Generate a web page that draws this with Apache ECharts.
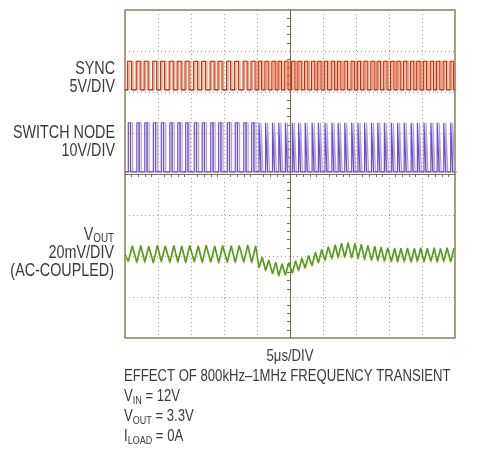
<!DOCTYPE html>
<html>
<head>
<meta charset="utf-8">
<script src="https://cdn.jsdelivr.net/npm/echarts@6/dist/echarts.min.js"></script>
<style>
  html, body { margin: 0; padding: 0; background: #fff; }
  #chart { width: 484px; height: 450px; }
</style>
</head>
<body>
<div id="chart"></div>
<script>
// time axis in us, 5us/div, 10 divisions
const timeMin = -25;
const timeMax = 25;
const timeStep = 5;

// SYNC pulses [rise, fall] in us, 0V..3.5V
const syncHighV = 3.5;
const syncPulses = [
  [-24.6, -24.0], [-23.3, -22.7], [-22.1, -21.5], [-20.8, -20.2], [-19.6, -19.0], [-18.3, -17.7],
  [-17.1, -16.5], [-15.9, -15.3], [-14.6, -14.0], [-13.4, -12.8], [-12.1, -11.5], [-10.9, -10.3],
  [-9.6, -9.0], [-8.4, -7.8], [-7.1, -6.5], [-5.9, -5.3],
  [-4.8, -4.3], [-3.8, -3.3], [-2.75, -2.25], [-1.8, -1.3], [-0.8, -0.3], [0.25, 0.75],
  [1.2, 1.7], [2.2, 2.7], [3.25, 3.75], [4.2, 4.7], [5.2, 5.7], [6.25, 6.75],
  [7.2, 7.7], [8.2, 8.7], [9.25, 9.75], [10.2, 10.7], [11.2, 11.7], [12.25, 12.75],
  [13.2, 13.7], [14.2, 14.7], [15.25, 15.75], [16.2, 16.7], [17.2, 17.7], [18.25, 18.75],
  [19.2, 19.7], [20.2, 20.7], [21.25, 21.75], [22.2, 22.7], [23.2, 23.7], [24.25, 24.75]
];

// SWITCH NODE pulses [rise, fall] in us, 0V..12V
const swHighV = 12;
const swPulses = [
  [-24.5, -24.15], [-23.2, -22.85], [-22.0, -21.65], [-20.7, -20.35], [-19.5, -19.15], [-18.2, -17.85],
  [-17.0, -16.65], [-15.8, -15.45], [-14.5, -14.15], [-13.3, -12.95], [-12.0, -11.65], [-10.8, -10.45],
  [-9.5, -9.15], [-8.3, -7.95], [-7.0, -6.65], [-5.8, -5.45],
  [-4.7, -4.4], [-3.7, -3.4], [-2.65, -2.35], [-1.7, -1.4], [-0.7, -0.4], [0.35, 0.65],
  [1.3, 1.6], [2.3, 2.6], [3.35, 3.65], [4.3, 4.6], [5.3, 5.6], [6.35, 6.65],
  [7.3, 7.6], [8.3, 8.6], [9.35, 9.65], [10.3, 10.6], [11.3, 11.6], [12.35, 12.65],
  [13.3, 13.6], [14.3, 14.6], [15.35, 15.65], [16.3, 16.6], [17.3, 17.6], [18.35, 18.65],
  [19.3, 19.6], [20.3, 20.6], [21.35, 21.65], [22.3, 22.6], [23.3, 23.6], [24.35, 24.65]
];

// VOUT ripple [t us, mV] (AC-coupled)
const voutPoints = [
  [-25, 1.0], [-24.5, -2.5], [-23.9, 5.0], [-23.2, -3.0], [-22.6, 5.2], [-22.0, -2.8], [-21.4, 4.8],
  [-20.7, -3.2], [-20.1, 5.3], [-19.5, -2.6], [-18.9, 5.0], [-18.2, -3.0], [-17.6, 5.1],
  [-17.0, -2.9], [-16.4, 4.9], [-15.8, -3.1], [-15.2, 5.2], [-14.5, -2.7], [-13.9, 5.0],
  [-13.3, -3.0], [-12.7, 5.3], [-12.0, -2.8], [-11.4, 4.9], [-10.8, -3.1], [-10.2, 5.1],
  [-9.5, -2.9], [-8.9, 5.0], [-8.3, -3.0], [-7.7, 5.2], [-7.0, -2.8], [-6.4, 5.4],
  [-5.8, -3.0], [-5.2, 5.0],
  [-4.7, -5.5], [-4.2, -0.5], [-3.7, -7.0], [-3.2, -2.0], [-2.65, -8.5], [-2.15, -3.0],
  [-1.7, -9.5], [-1.2, -3.8], [-0.7, -9.2], [-0.2, -3.2], [0.35, -8.2], [0.85, -2.3],
  [1.3, -7.0], [1.8, -1.0], [2.3, -5.8], [2.8, 0.3], [3.35, -4.5], [3.85, 1.8],
  [4.3, -3.2], [4.8, 3.2], [5.3, -2.0], [5.8, 4.5], [6.35, -1.2], [6.85, 5.5],
  [7.3, -0.6], [7.8, 6.3], [8.3, -0.5], [8.8, 6.5], [9.35, -0.8], [9.85, 6.2],
  [10.3, -1.2], [10.8, 5.8], [11.3, -1.6], [11.8, 5.2], [12.35, -2.0], [12.85, 4.8],
  [13.3, -2.3], [13.8, 4.4], [14.3, -2.5], [14.8, 4.1], [15.35, -2.6], [15.85, 3.9],
  [16.3, -2.7], [16.8, 3.8], [17.3, -2.6], [17.8, 3.9], [18.35, -2.8], [18.85, 3.7],
  [19.3, -2.6], [19.8, 4.0], [20.3, -2.7], [20.8, 3.8], [21.35, -2.5], [21.85, 4.1],
  [22.3, -2.8], [22.8, 3.7], [23.3, -2.6], [23.8, 4.0], [24.35, -2.7], [24.85, 3.9]
];

// vertical scale: divisions from centre, and each channel's ground / scale
const divMin = -4;
const divMax = 4;
const syncZeroDiv = 2.05, syncVoltsPerDiv = 5;
const swZeroDiv = 0.05, swVoltsPerDiv = 10;
const voutZeroDiv = -2, voutMvPerDiv = 20;

function pulseTrace(pulses, high, zero, perDiv) {
  const lo = zero;
  const hi = zero + high / perDiv;
  const pts = [[timeMin, lo]];
  pulses.forEach(p => {
    pts.push([p[0], lo], [p[0], hi], [p[1], hi], [p[1], lo]);
  });
  pts.push([timeMax, lo]);
  return pts;
}

const syncData = pulseTrace(syncPulses, syncHighV, syncZeroDiv, syncVoltsPerDiv);
const swData = pulseTrace(swPulses, swHighV, swZeroDiv, swVoltsPerDiv);
const voutData = voutPoints.map(p => [p[0], voutZeroDiv + p[1] / voutMvPerDiv]);

const chart = echarts.init(document.getElementById('chart'));

const gridColor = '#ad9f84';
const textColor = '#3a3a3a';
const font = '"Liberation Sans", Arial, sans-serif';
const narrow = 0.82;

// text label, condensed horizontally like the original's narrow type
function label(text, x, y, align, size) {
  const subSize = Math.round(size * 0.7);
  return {
    type: 'text',
    x: x,
    y: y,
    scaleX: narrow,
    style: {
      text: text,
      rich: {
        m: { fontSize: size, fontFamily: font, color: textColor, lineHeight: size + 2 },
        s: { fontSize: subSize, fontFamily: font, color: textColor, lineHeight: size + 2, verticalAlign: 'bottom' }
      },
      textAlign: align,
      textVerticalAlign: 'middle',
      font: size + 'px ' + font,
      fill: textColor
    }
  };
}

const option = {
  animation: false,
  grid: {
    left: 125,
    top: 10,
    width: 330,
    height: 328,
    show: true,
    borderColor: '#8c7c5c',
    borderWidth: 1.5
  },
  xAxis: {
    type: 'value',
    min: timeMin,
    max: timeMax,
    interval: timeStep,
    axisLabel: { show: false },
    axisLine: { show: true, onZero: true, lineStyle: { color: '#7a6a4c', width: 1 } },
    axisTick: { show: false },
    minorTick: { show: true, splitNumber: 5, length: 3, lineStyle: { color: '#7a6a4c' } },
    splitLine: { show: true, lineStyle: { color: gridColor, type: [1, 3], width: 1 } }
  },
  yAxis: {
    type: 'value',
    min: divMin,
    max: divMax,
    interval: 1,
    axisLabel: { show: false },
    axisLine: { show: true, onZero: true, lineStyle: { color: '#7a6a4c', width: 1 } },
    axisTick: { show: false },
    minorTick: { show: true, splitNumber: 5, length: 3, lineStyle: { color: '#7a6a4c' } },
    splitLine: { show: true, lineStyle: { color: gridColor, type: [1, 3], width: 1 } }
  },
  series: [
    {
      name: 'SYNC',
      type: 'line',
      data: syncData,
      symbol: 'none',
      lineStyle: { color: '#c8281e', width: 1.2, shadowColor: 'rgba(230,140,60,0.8)', shadowOffsetX: 1.5 }
    },
    {
      name: 'SWITCH NODE',
      type: 'line',
      data: swData,
      symbol: 'none',
      lineStyle: { color: '#6e4fbf', width: 1.2, shadowColor: 'rgba(170,150,225,0.9)', shadowOffsetX: 2 }
    },
    {
      name: 'VOUT',
      type: 'line',
      data: voutData,
      symbol: 'none',
      lineStyle: { color: '#4f9a2a', width: 1.5, shadowColor: 'rgba(200,210,60,0.8)', shadowOffsetY: 1.5 }
    }
  ],
  graphic: [
    label('SYNC', 115, 69, 'right', 17.5),
    label('5V/DIV', 115, 87, 'right', 17.5),
    label('SWITCH NODE', 115, 133, 'right', 17.5),
    label('10V/DIV', 115, 151, 'right', 17.5),
    label('{m|V}{s|OUT}', 114, 235, 'right', 17.5),
    label('20mV/DIV', 114, 253, 'right', 17.5),
    label('(AC-COUPLED)', 114, 271, 'right', 17.5),
    label('5μs/DIV', 290, 357, 'center', 16),
    label('EFFECT OF 800kHz–1MHz FREQUENCY TRANSIENT', 124, 377, 'left', 16),
    label('{m|V}{s|IN}{m| = 12V}', 124, 397, 'left', 16),
    label('{m|V}{s|OUT}{m| = 3.3V}', 124, 417, 'left', 16),
    label('{m|I}{s|LOAD}{m| = 0A}', 124, 437, 'left', 16)
  ]
};

chart.setOption(option);
</script>
</body>
</html>
